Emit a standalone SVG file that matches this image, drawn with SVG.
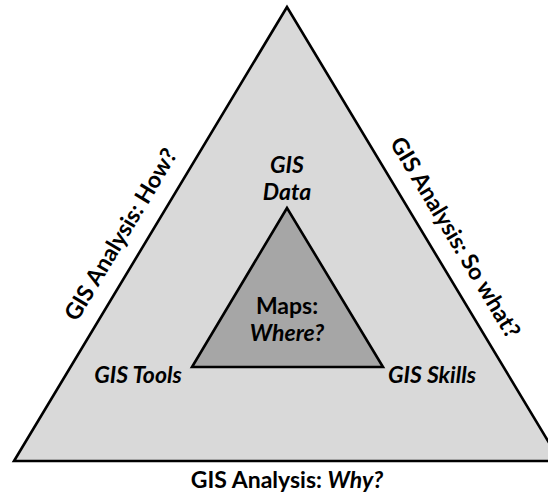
<svg xmlns="http://www.w3.org/2000/svg" width="548" height="496" viewBox="0 0 548 496">
<style>
.t{font-family:Lato,"Liberation Sans",sans-serif;font-weight:bold;font-size:23px;fill:#000;text-anchor:middle}
.i{font-style:italic}
.tri{stroke:#000;stroke-width:2.6;stroke-linejoin:miter}
</style>
<rect width="548" height="496" fill="#fff"/>
<g id="outer">
<polygon class="tri" points="287,7 14,461 560,461" fill="#d9d9d9"/>
</g>
<g id="inner">
<polygon class="tri" points="287,208 192,367 383,367" fill="#a6a6a6"/>
<text class="t" x="287" y="314">Maps:</text>
<text class="t i" x="287" y="341">Where?</text>
</g>
<g id="data"><text class="t i" x="287" y="173">GIS</text><text class="t i" x="287" y="200">Data</text></g>
<g id="tools"><text class="t i" x="138" y="383">GIS Tools</text></g>
<g id="skills"><text class="t i" x="432" y="383">GIS Skills</text></g>
<g id="how"><text class="t" transform="translate(127.5,238.5) rotate(-59)">GIS Analysis: How?</text></g>
<g id="sowhat"><text class="t" transform="translate(448.5,241.5) rotate(59)">GIS Analysis: So what?</text></g>
<g id="why"><text class="t" x="287" y="488">GIS Analysis: <tspan class="i">Why?</tspan></text></g>
</svg>
